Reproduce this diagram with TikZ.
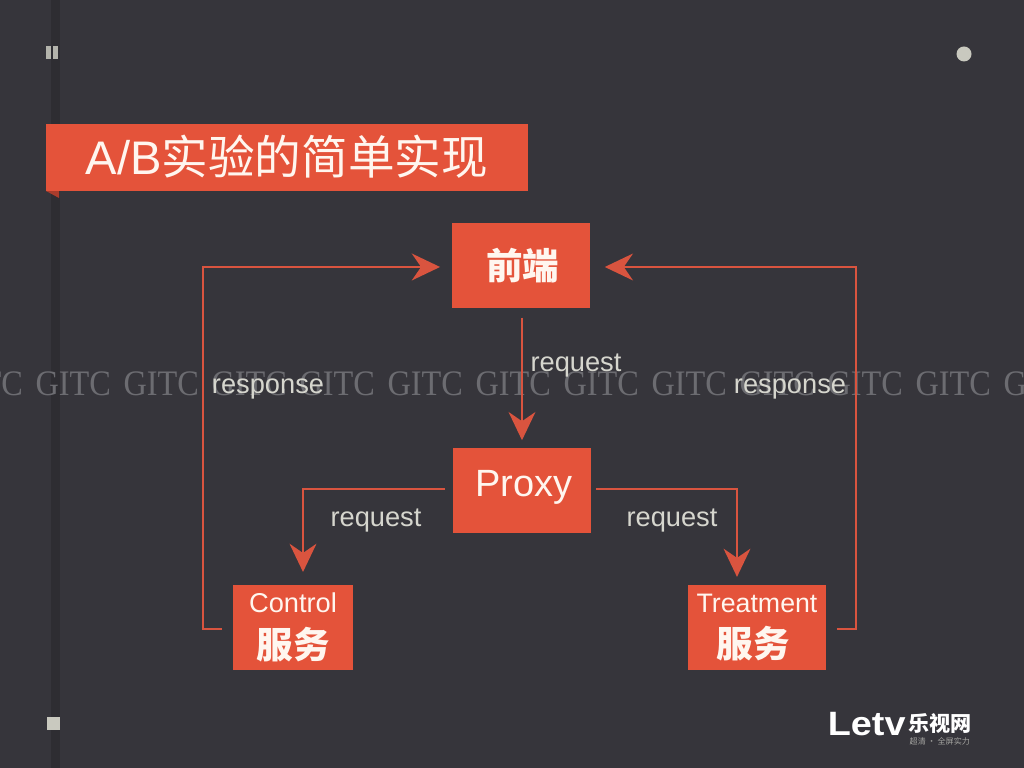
\documentclass[tikz,border=0pt]{standalone}
\usepackage{fontspec}
\setmainfont{Liberation Sans}
\newfontfamily\cjk{Noto Sans CJK SC}
\newfontfamily\markfont{Liberation Serif}
\usetikzlibrary{arrows.meta}
\definecolor{slide}{HTML}{36353B}
\definecolor{strip}{HTML}{2E2D32}
\definecolor{boxred}{HTML}{E4533A}
\definecolor{foldred}{HTML}{A93C2C}
\definecolor{linered}{HTML}{D9543F}
\definecolor{labelgray}{HTML}{D6D6CE}
\definecolor{markgray}{HTML}{6C6C71}
\definecolor{dotgray}{HTML}{C9C9BF}
\definecolor{boxtext}{HTML}{FFF6EF}
\tikzset{
  redbox/.style={fill=boxred, text=boxtext, inner sep=0pt, align=center},
  link/.style={linered, line width=0.8pt},
  linkhead/.style={link, -{Stealth[length=8pt,width=7.6pt,inset=2.6pt]}},
  linklabel/.style={labelgray, font=\fontsize{7.75}{9}\selectfont},
  watermark/.style={markgray, anchor=west, inner sep=0pt, xscale=0.9, transform shape,
    font=\markfont\fontsize{10.2}{12}\selectfont},
}

\begin{document}
\begin{tikzpicture}[x=0.01cm, y=-0.01cm]

% All positions in pixels of the 1024x768 slide, y running down.
\useasboundingbox (0,0) rectangle (1024,768);
\fill[slide] (0,0) rectangle (1024,768);

% --- Dark strip and slide marks ---
\fill[strip] (51,0) rectangle (60,768);
\fill[dotgray!85!slide] (46,46) rectangle (51,59);
\fill[dotgray!85!slide] (53,46) rectangle (58,59);
\fill[dotgray] (964,54) circle (7.5);
\fill[dotgray] (47,717) rectangle (60,730);

% --- Watermark ---
\foreach \px in {-53,35,123,211,299,387,475,563,651,739,827,915,1003} {
  \node[watermark] (mark\px) at (\px,384) {GITC};
}

% --- Title ribbon ---
\fill[foldred] (46,191) -- (59,191) -- (59,198) -- cycle;
\node[redbox, minimum width=4.82cm, minimum height=0.67cm] (title) at (287,157.5) {};
\node[boxtext, anchor=west, inner sep=0pt, font=\fontsize{13.4}{16}\selectfont] (titletext) at (85,157) {A/B{\cjk\fontsize{13.25}{16}\selectfont 实验的简单实现}};

% --- Boxes ---
\node[redbox, minimum width=1.38cm, minimum height=0.85cm, font=\cjk\bfseries\fontsize{10.4}{12}\selectfont] (front) at (521,265.5) {\hspace*{1.1pt}前端};
\node[redbox, minimum width=1.38cm, minimum height=0.85cm] (proxy) at (522,490.5) {};
\node[boxtext, inner sep=0pt, font=\fontsize{10.8}{13}\selectfont] (proxytext) at (524,487) {Proxy};
\node[redbox, minimum width=1.20cm, minimum height=0.85cm] (control) at (293,627.5)
  {\fontsize{7.75}{9}\selectfont Control\\[1pt]{\cjk\bfseries\fontsize{10.4}{12}\selectfont 服务}};
\node[redbox, minimum width=1.38cm, minimum height=0.85cm] (treatment) at (757,627.5)
  {\fontsize{7.6}{9}\selectfont Treatment\\[1pt]{\cjk\bfseries\fontsize{10.4}{12}\selectfont 服务\hspace*{2pt}}};

% --- Corners and entry points of the connectors ---
\coordinate (frontleft)     at (452,267);
\coordinate (frontright)    at (590,267);
\coordinate (proxyleft)     at (453,489);
\coordinate (proxyright)    at (591,489);
\coordinate (controlin)     at (303,585);
\coordinate (treatmentin)   at (737,585);
\coordinate (controlout)    at (233,629);
\coordinate (treatmentout)  at (826,629);
\coordinate (controlback)   at (203,629);
\coordinate (treatmentback) at (856,629);

% --- Requests ---
\draw[linkhead, shorten <=2.5pt, shorten >=2pt] (front.south -| proxy.north) -- (proxy.north);
\draw[linkhead, shorten <=2.3pt, shorten >=3.7pt] (proxyleft) -| (controlin);
\draw[linkhead, shorten <=1.4pt, shorten >=2.3pt] (proxyright) -| (treatmentin);

% --- Responses ---
\draw[linkhead, shorten <=3.1pt, shorten >=3.4pt] (controlout) -- (controlback) |- (frontleft);
\draw[linkhead, shorten <=3.1pt, shorten >=4.2pt] (treatmentout) -- (treatmentback) |- (frontright);

% --- Connector labels ---
\node[linklabel] (reqfront)   at (576,366) {request};
\node[linklabel] (reqcontrol) at (376,521) {request};
\node[linklabel] (reqtreat)   at (672,521) {request};
\node[linklabel] (respleft)   at (268,389) {response};
\node[linklabel] (respright)  at (790,389) {response};

% --- Logo ---
\node[white, anchor=west, inner sep=0pt, xscale=1.12, transform shape, font=\bfseries\fontsize{9.6}{11}\selectfont] (logoname) at (827,724) {Letv};
\node[white, anchor=west, inner sep=0pt, font=\cjk\bfseries\fontsize{6}{7}\selectfont] (logocn) at (908,724) {乐视网};
\node[labelgray!70!slide, anchor=west, inner sep=0pt, font=\cjk\fontsize{2.3}{3}\selectfont] (logosub) at (909,741) {超清 · 全屏实力};

\end{tikzpicture}
\end{document}
